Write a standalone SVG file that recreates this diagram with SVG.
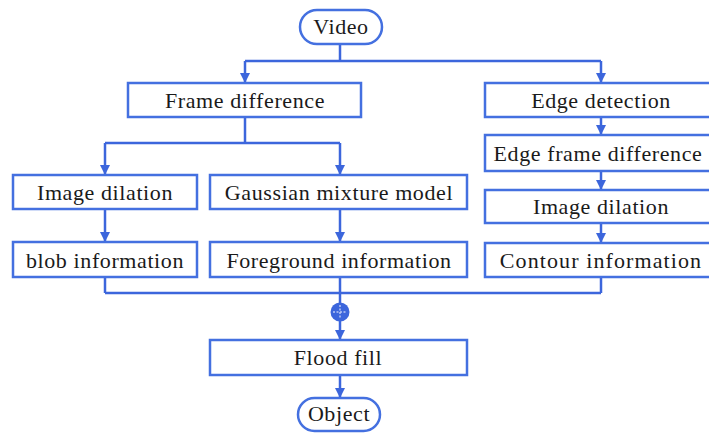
<svg xmlns="http://www.w3.org/2000/svg" width="709" height="434" viewBox="0 0 709 434">
<defs>
<style>
.box{fill:#ffffff;stroke:#4470e0;stroke-width:2.5}
.ln{fill:none;stroke:#3c66dc;stroke-width:2.5}
.t{font-family:"Liberation Serif","Times New Roman","DejaVu Serif",serif;font-size:22px;letter-spacing:0.6px;fill:#1a1a1a;text-anchor:middle}
.w{letter-spacing:1.1px}
</style>
<marker id="ah" markerWidth="10" markerHeight="10" refX="9" refY="5" orient="auto" markerUnits="userSpaceOnUse">
<path d="M0,0 L10,5 L0,10 Z" fill="#3c66dc"/>
</marker>
</defs>
<rect width="709" height="434" fill="#ffffff"/>
<g id="connectors">
<path class="ln" d="M340,44 V61"/>
<path class="ln" d="M245,61 H601"/>
<path class="ln" d="M245,61 V82" marker-end="url(#ah)"/>
<path class="ln" d="M601,61 V82" marker-end="url(#ah)"/>
<path class="ln" d="M245,117 V143"/>
<path class="ln" d="M105,143 H340"/>
<path class="ln" d="M105,143 V174" marker-end="url(#ah)"/>
<path class="ln" d="M340,143 V174" marker-end="url(#ah)"/>
<path class="ln" d="M105,209 V241" marker-end="url(#ah)"/>
<path class="ln" d="M340,209 V241" marker-end="url(#ah)"/>
<path class="ln" d="M601,117 V134" marker-end="url(#ah)"/>
<path class="ln" d="M601,171 V189" marker-end="url(#ah)"/>
<path class="ln" d="M601,223 V242" marker-end="url(#ah)"/>
<path class="ln" d="M105,277 V293"/>
<path class="ln" d="M340,277 V303"/>
<path class="ln" d="M601,277 V293"/>
<path class="ln" d="M105,293 H601"/>
<path class="ln" d="M340,321 V339" marker-end="url(#ah)"/>
<path class="ln" d="M340,375 V397" marker-end="url(#ah)"/>
</g>
<g id="sum">
<circle cx="340" cy="312" r="9.5" fill="#3c66dc"/>
<path d="M333,312 H347 M340,305 V319" stroke="#b8c8f4" stroke-width="1.5" stroke-dasharray="2,1.5"/>
</g>
<g id="video"><rect class="box" x="300" y="10" width="82" height="34" rx="17"/><text class="t" x="341" y="34">Video</text></g>
<g id="frame-difference"><rect class="box" x="128" y="83" width="233" height="34"/><text class="t" x="245" y="108">Frame difference</text></g>
<g id="edge-detection"><rect class="box" x="485" y="83" width="232" height="34"/><text class="t" x="601" y="108">Edge detection</text></g>
<g id="edge-frame-difference"><rect class="box" x="485" y="135" width="232" height="36"/><text class="t" x="598" y="161">Edge frame difference</text></g>
<g id="image-dilation-right"><rect class="box" x="485" y="190" width="232" height="33"/><text class="t" x="601" y="214">Image dilation</text></g>
<g id="contour-information"><rect class="box" x="485" y="243" width="232" height="34"/><text class="t w" x="601" y="268">Contour information</text></g>
<g id="image-dilation"><rect class="box" x="13" y="175" width="184" height="34"/><text class="t" x="105" y="200">Image dilation</text></g>
<g id="gaussian-mixture-model"><rect class="box" x="210" y="175" width="257" height="34"/><text class="t" x="339" y="200">Gaussian mixture model</text></g>
<g id="blob-information"><rect class="box" x="13" y="242" width="184" height="35"/><text class="t" x="105" y="268">blob information</text></g>
<g id="foreground-information"><rect class="box" x="210" y="242" width="257" height="35"/><text class="t" x="339" y="268">Foreground information</text></g>
<g id="flood-fill"><rect class="box" x="210" y="340" width="257" height="35"/><text class="t" x="338" y="365">Flood fill</text></g>
<g id="object"><rect class="box" x="298" y="398" width="82" height="33" rx="16.5"/><text class="t" x="339" y="421">Object</text></g>
</svg>
